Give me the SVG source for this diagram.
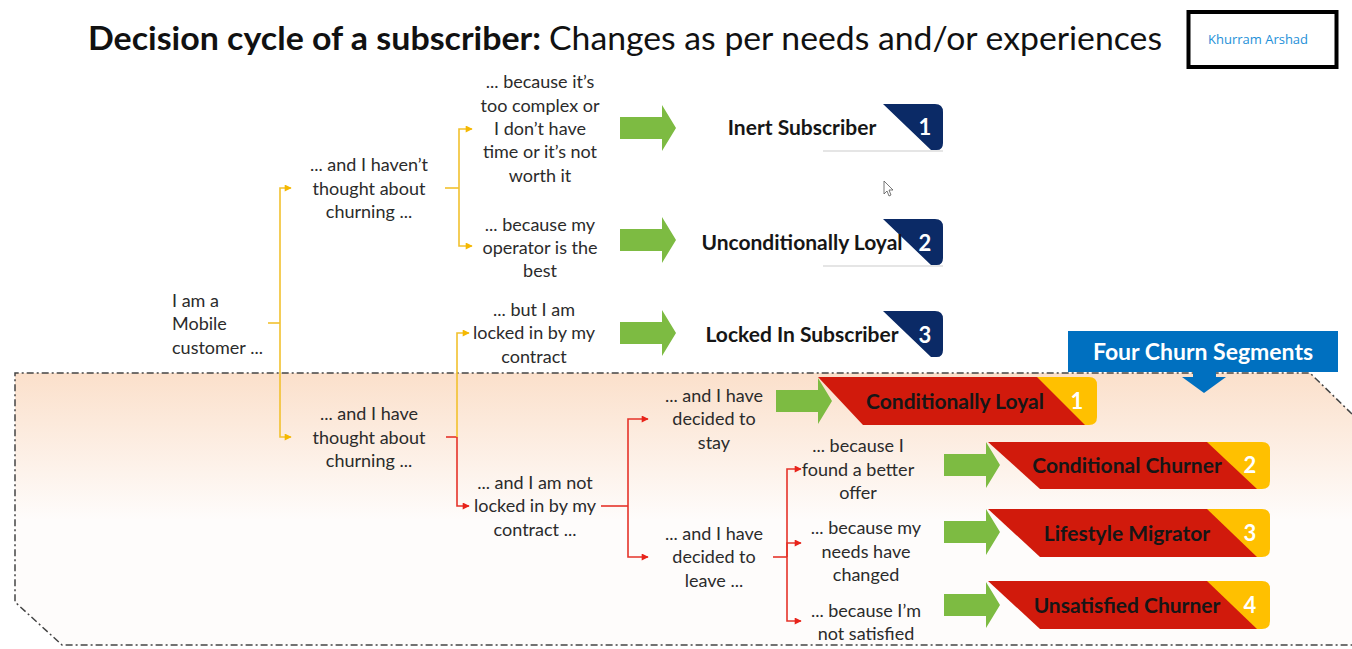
<svg xmlns="http://www.w3.org/2000/svg" width="1352" height="649" viewBox="0 0 1352 649">
<defs>
<style>
.t{font-family:Lato,"Open Sans","Liberation Sans",sans-serif;font-size:18px;fill:#2b2b2b;text-anchor:middle}
.tl{text-anchor:start}
.lb{font-family:Lato,"Open Sans","Liberation Sans",sans-serif;font-size:21px;font-weight:bold;fill:#161616;text-anchor:middle}
.num{font-family:Lato,"Open Sans","Liberation Sans",sans-serif;font-size:22px;font-weight:bold;fill:#fff;text-anchor:middle}
.y{stroke:#f2c12e;stroke-width:1.6;fill:none}
.r{stroke:#e5332a;stroke-width:1.6;fill:none}
.ga{fill:#7dbb42}
.navy{fill:#0b2a66}
.red{fill:#d11a0c}
.yel{fill:#ffc000}
</style>
<linearGradient id="bg" gradientUnits="userSpaceOnUse" x1="0" y1="373" x2="0" y2="520">
<stop offset="0" stop-color="#fbe0cb"/>
<stop offset="1" stop-color="#fefcfb"/>
</linearGradient>
<marker id="ay" viewBox="0 0 10 10" refX="9" refY="5" markerWidth="9" markerHeight="7" markerUnits="userSpaceOnUse" orient="auto"><path d="M0 0L10 5L0 10z" fill="#f5b800"/></marker>
<marker id="ar" viewBox="0 0 10 10" refX="9" refY="5" markerWidth="10" markerHeight="7" markerUnits="userSpaceOnUse" orient="auto"><path d="M0 0L10 5L0 10z" fill="#e8231a"/></marker>
<path id="garrow" d="M0 -11H42V-23L56 0L42 23V11H0z"/>
</defs>
<rect width="1352" height="649" fill="#fff"/>

<!-- dashed churn region -->
<path d="M15 373H1310L1352 414V645H62L15 602Z" fill="url(#bg)" stroke="none"/>
<path d="M1352 414L1310 373H15V602L62 645H1352" fill="none" stroke="#444" stroke-width="1.5" stroke-dasharray="7 3 2 3"/>

<!-- title -->
<text x="88" y="50" font-family="Lato,'Open Sans','Liberation Sans',sans-serif" font-size="32" font-weight="bold" fill="#111" textLength="453" lengthAdjust="spacingAndGlyphs">Decision cycle of a subscriber:</text>
<text x="549" y="50" font-family="Lato,'Open Sans','Liberation Sans',sans-serif" font-size="32" fill="#111" textLength="613" lengthAdjust="spacingAndGlyphs">Changes as per needs and/or experiences</text>

<!-- watermark -->
<g id="watermark">
<rect x="1188.5" y="12" width="148" height="55" fill="#fff" stroke="#000" stroke-width="4"/>
<text x="1208" y="44" font-family="'Open Sans','Noto Sans',sans-serif" font-size="13" fill="#1e90d8">Khurram Arshad</text>
</g>

<!-- connectors -->
<g id="connectors">
<path class="y" d="M268 323H280"/>
<path class="y" d="M280 323V188H291" marker-end="url(#ay)"/>
<path class="y" d="M280 323V437H291" marker-end="url(#ay)"/>
<path class="y" d="M445 188H459"/>
<path class="y" d="M459 188V129H472" marker-end="url(#ay)"/>
<path class="y" d="M459 188V246H472" marker-end="url(#ay)"/>
<path class="r" d="M446 437H457"/>
<path class="y" d="M457 437V333H469" marker-end="url(#ay)"/>
<path class="r" d="M457 437V506H469" marker-end="url(#ar)"/>
<path class="r" d="M601 506H628"/>
<path class="r" d="M628 506V419H648" marker-end="url(#ar)"/>
<path class="r" d="M628 506V557H648" marker-end="url(#ar)"/>
<path class="r" d="M773 557H787"/>
<path class="r" d="M787 557V469H801" marker-end="url(#ar)"/>
<path class="r" d="M787 557V543H801" marker-end="url(#ar)"/>
<path class="r" d="M787 557V621H801" marker-end="url(#ar)"/>
</g>

<!-- text nodes -->
<g id="n-customer"><text class="t tl"><tspan x="172" y="307">I am a</tspan><tspan x="172" y="330">Mobile</tspan><tspan x="172" y="354">customer ...</tspan></text></g>
<g id="n-havent"><text class="t"><tspan x="369" y="171">... and I haven’t</tspan><tspan x="369" y="195">thought about</tspan><tspan x="369" y="218">churning ...</tspan></text></g>
<g id="n-have"><text class="t"><tspan x="369" y="420">... and I have</tspan><tspan x="369" y="444">thought about</tspan><tspan x="369" y="467">churning ...</tspan></text></g>
<g id="n-complex"><text class="t"><tspan x="540" y="88">... because it’s</tspan><tspan x="540" y="112">too complex or</tspan><tspan x="540" y="135">I don’t have</tspan><tspan x="540" y="158">time or it’s not</tspan><tspan x="540" y="182">worth it</tspan></text></g>
<g id="n-best"><text class="t"><tspan x="540" y="231">... because my</tspan><tspan x="540" y="254">operator is the</tspan><tspan x="540" y="277">best</tspan></text></g>
<g id="n-locked"><text class="t"><tspan x="534" y="316">... but I am</tspan><tspan x="534" y="339">locked in by my</tspan><tspan x="534" y="363">contract</tspan></text></g>
<g id="n-notlocked"><text class="t"><tspan x="535" y="489">... and I am not</tspan><tspan x="535" y="512">locked in by my</tspan><tspan x="535" y="536">contract ...</tspan></text></g>
<g id="n-stay"><text class="t"><tspan x="714" y="402">... and I have</tspan><tspan x="714" y="425">decided to</tspan><tspan x="714" y="449">stay</tspan></text></g>
<g id="n-leave"><text class="t"><tspan x="714" y="540">... and I have</tspan><tspan x="714" y="563">decided to</tspan><tspan x="714" y="587">leave ...</tspan></text></g>
<g id="n-offer"><text class="t"><tspan x="858" y="452">... because I</tspan><tspan x="858" y="476">found a better</tspan><tspan x="858" y="499">offer</tspan></text></g>
<g id="n-needs"><text class="t"><tspan x="866" y="534">... because my</tspan><tspan x="866" y="558">needs have</tspan><tspan x="866" y="581">changed</tspan></text></g>
<g id="n-unsat"><text class="t"><tspan x="866" y="617">... because I’m</tspan><tspan x="866" y="640">not satisfied</tspan></text></g>

<!-- green arrows -->
<g id="green-arrows">
<use href="#garrow" class="ga" x="620" y="128"/>
<use href="#garrow" class="ga" x="620" y="240"/>
<use href="#garrow" class="ga" x="620" y="333"/>
<use href="#garrow" class="ga" x="776" y="401"/>
<use href="#garrow" class="ga" x="944" y="465"/>
<use href="#garrow" class="ga" x="944" y="532"/>
<use href="#garrow" class="ga" x="944" y="605"/>
</g>

<!-- non-churn segments -->
<g id="seg-inert">
<path d="M823 151H943" stroke="#dcdcdc" stroke-width="1.5"/>
<path class="navy" d="M883 104H935Q943 104 943 112V143Q943 151 935 150L931 150Z"/>
<text class="num" x="925" y="135">1</text>
<text class="lb" x="802" y="135">Inert Subscriber</text>
</g>
<g id="seg-uncond">
<path d="M823 266H943" stroke="#dcdcdc" stroke-width="1.5"/>
<path class="navy" d="M883 219H935Q943 219 943 227V258Q943 266 935 265L931 265Z"/>
<text class="num" x="925" y="251">2</text>
<text class="lb" x="802" y="250">Unconditionally Loyal</text>
</g>
<g id="seg-lockedin">
<path class="navy" d="M883 311H935Q943 311 943 319V350Q943 358 935 357L931 357Z"/>
<text class="num" x="925" y="343">3</text>
<text class="lb" x="802" y="342">Locked In Subscriber</text>
</g>

<!-- callout -->
<g id="four-churn">
<path fill="#0070c0" d="M1068 331H1338V372H1216V377H1226L1204 393L1182 377H1193V372H1068Z"/>
<text x="1203" y="360" font-family="Lato,'Open Sans','Liberation Sans',sans-serif" font-size="23" font-weight="bold" fill="#fff" text-anchor="middle">Four Churn Segments</text>
</g>

<!-- churn segments -->
<g id="churn-1">
<path class="yel" d="M1030 377H1089Q1097 377 1097 385V417Q1097 425 1089 425H1078Z"/>
<path class="red" d="M818 377H1037L1085 425H863Z"/>
<text class="num" x="1077" y="409">1</text>
<text class="lb" x="955" y="409">Conditionally Loyal</text>
</g>
<g id="churn-2">
<path class="yel" d="M1200 442H1262Q1270 442 1270 450V481Q1270 489 1262 489H1250Z"/>
<path class="red" d="M988 442H1207L1257 489H1040Z"/>
<text class="num" x="1250" y="473">2</text>
<text class="lb" x="1127" y="473">Conditional Churner</text>
</g>
<g id="churn-3">
<path class="yel" d="M1200 509H1262Q1270 509 1270 517V549Q1270 557 1262 557H1250Z"/>
<path class="red" d="M988 509H1207L1257 557H1040Z"/>
<text class="num" x="1250" y="541">3</text>
<text class="lb" x="1127" y="541">Lifestyle Migrator</text>
</g>
<g id="churn-4">
<path class="yel" d="M1200 581H1262Q1270 581 1270 589V621Q1270 629 1262 629H1250Z"/>
<path class="red" d="M988 581H1207L1257 629H1040Z"/>
<text class="num" x="1250" y="613">4</text>
<text class="lb" x="1127" y="613">Unsatisfied Churner</text>
</g>

<!-- mouse cursor -->
<path d="M884 181V194L887 191L889 196L891 195L889 190H893Z" fill="#fff" stroke="#555" stroke-width="0.8"/>
</svg>
